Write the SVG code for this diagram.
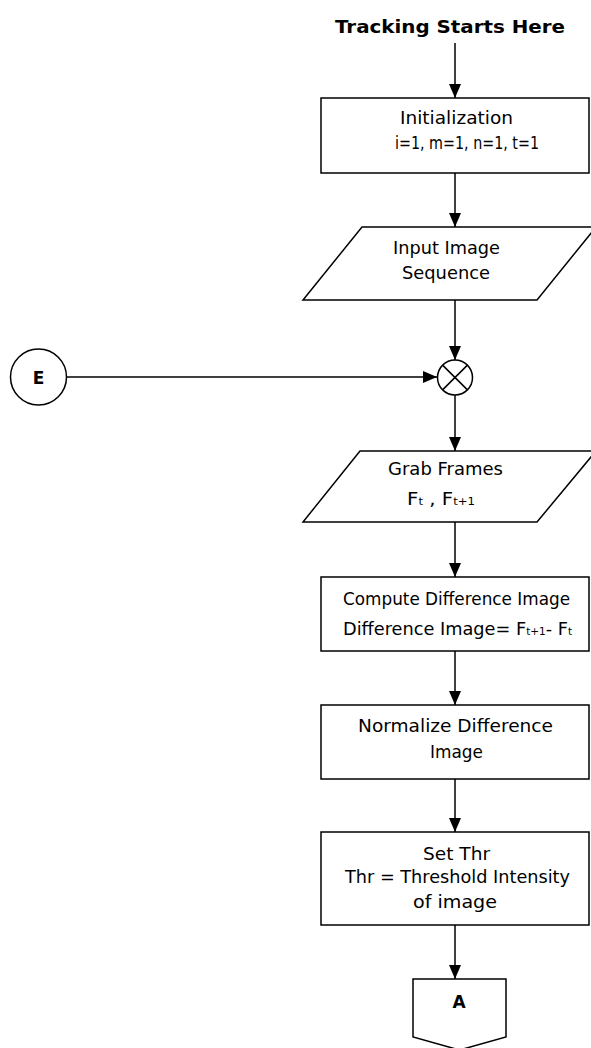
<svg xmlns="http://www.w3.org/2000/svg" width="591" height="1048" viewBox="0 0 591 1048">
  <style>
    .shape { fill: #ffffff; stroke: #000000; stroke-width: 1.5; }
    .wire { fill: none; stroke: #000000; stroke-width: 1.5; }
    .label { font-family: "DejaVu Sans", "Liberation Sans", sans-serif; font-size: 17px; fill: #000000; }
    .bold { font-weight: bold; }
    .sub { font-size: 10px; }
  </style>
  <defs>
    <marker id="arrow" viewBox="0 0 14 12" refX="14" refY="6" markerWidth="14" markerHeight="12" markerUnits="userSpaceOnUse" orient="auto">
      <path d="M0,0 L14,6 L0,12 Z" fill="#000000"/>
    </marker>
  </defs>

  <rect width="591" height="1048" fill="#ffffff"/>

  <!-- start label -->
  <g id="start">
    <text class="label bold" x="335" y="33" font-size="20" textLength="230" lengthAdjust="spacingAndGlyphs">Tracking Starts Here</text>
  </g>

  <!-- connectors -->
  <g id="connectors">
    <line class="wire" x1="455" y1="43" x2="455" y2="98" marker-end="url(#arrow)"/>
    <line class="wire" x1="455" y1="173" x2="455" y2="227" marker-end="url(#arrow)"/>
    <line class="wire" x1="455" y1="300" x2="455" y2="360" marker-end="url(#arrow)"/>
    <line class="wire" x1="67" y1="377" x2="437" y2="377" marker-end="url(#arrow)"/>
    <line class="wire" x1="455" y1="395" x2="455" y2="451" marker-end="url(#arrow)"/>
    <line class="wire" x1="455" y1="522" x2="455" y2="577" marker-end="url(#arrow)"/>
    <line class="wire" x1="455" y1="651" x2="455" y2="705" marker-end="url(#arrow)"/>
    <line class="wire" x1="455" y1="779" x2="455" y2="832" marker-end="url(#arrow)"/>
    <line class="wire" x1="455" y1="925" x2="455" y2="979" marker-end="url(#arrow)"/>
  </g>

  <g id="init">
    <rect class="shape" x="321" y="98" width="268" height="75"/>
    <text class="label" x="400" y="124" textLength="113" lengthAdjust="spacingAndGlyphs">Initialization</text>
    <text class="label" x="395" y="149" textLength="144" lengthAdjust="spacingAndGlyphs">i=1, m=1, n=1, t=1</text>
  </g>

  <g id="input">
    <polygon class="shape" points="362,227 596,227 537,300 303,300"/>
    <text class="label" x="393" y="254" textLength="107" lengthAdjust="spacingAndGlyphs">Input Image</text>
    <text class="label" x="402" y="279" textLength="88" lengthAdjust="spacingAndGlyphs">Sequence</text>
  </g>

  <g id="junction">
    <circle class="shape" cx="455" cy="377.5" r="17.5"/>
    <line class="wire" x1="442.6" y1="365.1" x2="467.4" y2="389.9" stroke-width="1"/>
    <line class="wire" x1="467.4" y1="365.1" x2="442.6" y2="389.9" stroke-width="1"/>
  </g>

  <g id="entry-e">
    <circle class="shape" cx="38.5" cy="377" r="28"/>
    <text class="label bold" x="38.5" y="383.5" font-size="18" text-anchor="middle">E</text>
  </g>

  <g id="grab">
    <polygon class="shape" points="360,451 596,451 537,522 303,522"/>
    <text class="label" x="388" y="475" textLength="115" lengthAdjust="spacingAndGlyphs">Grab Frames</text>
    <text class="label" x="407" y="505" textLength="68" lengthAdjust="spacingAndGlyphs">F<tspan class="sub">t</tspan> , F<tspan class="sub">t+1</tspan></text>
  </g>

  <g id="difference">
    <rect class="shape" x="321" y="577" width="268" height="74"/>
    <text class="label" x="343" y="605" textLength="227" lengthAdjust="spacingAndGlyphs">Compute Difference Image</text>
    <text class="label" x="343" y="635" textLength="229" lengthAdjust="spacingAndGlyphs">Difference Image= F<tspan class="sub">t+1</tspan>- F<tspan class="sub">t</tspan></text>
  </g>

  <g id="normalize">
    <rect class="shape" x="321" y="705" width="268" height="74"/>
    <text class="label" x="358" y="732" textLength="195" lengthAdjust="spacingAndGlyphs">Normalize Difference</text>
    <text class="label" x="430" y="758" textLength="53" lengthAdjust="spacingAndGlyphs">Image</text>
  </g>

  <g id="threshold">
    <rect class="shape" x="321" y="832" width="268" height="93"/>
    <text class="label" x="423" y="860" textLength="67" lengthAdjust="spacingAndGlyphs">Set Thr</text>
    <text class="label" x="345" y="883" textLength="225" lengthAdjust="spacingAndGlyphs">Thr = Threshold Intensity</text>
    <text class="label" x="413" y="908" textLength="84" lengthAdjust="spacingAndGlyphs">of image</text>
  </g>

  <g id="exit-a">
    <polygon class="shape" points="413,979 506,979 506,1037 459.5,1050 413,1037"/>
    <text class="label bold" x="459" y="1008" font-size="18" text-anchor="middle">A</text>
  </g>
</svg>
